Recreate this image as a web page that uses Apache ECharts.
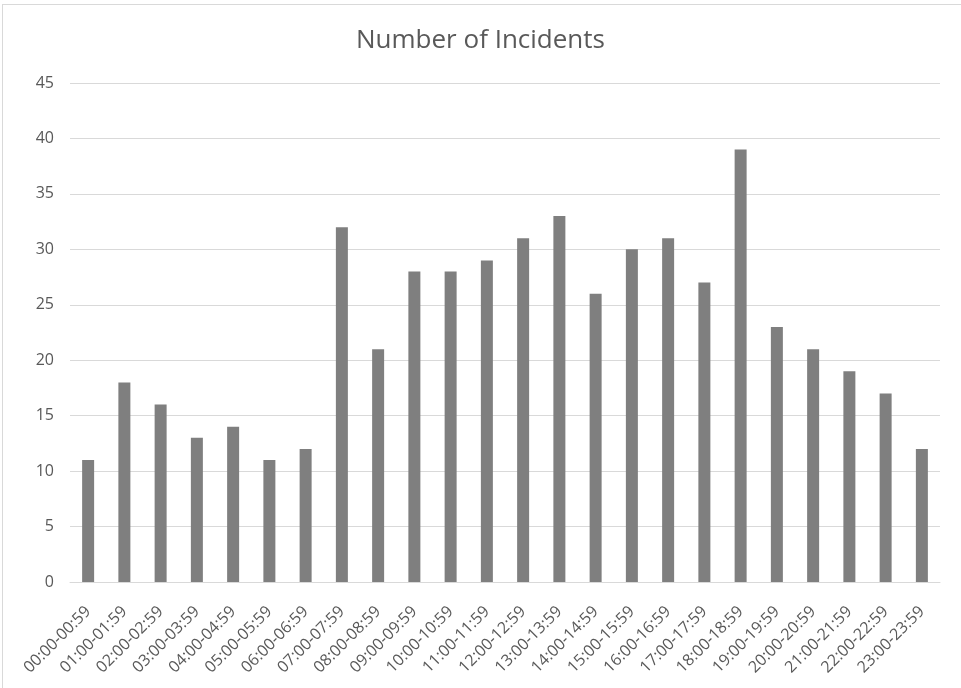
<!DOCTYPE html>
<html>
<head>
<meta charset="utf-8">
<script src="https://cdn.jsdelivr.net/npm/echarts@6/dist/echarts.min.js"></script>
<style>
  html, body { margin: 0; padding: 0; background: #fff; overflow: hidden; }
  #frame { position: absolute; left: 2px; top: 4px; width: 1000px; height: 720px; border: 1px solid #d9d9d9; }
  #chart { position: absolute; left: 0; top: 0; width: 961px; height: 688px; }
</style>
</head>
<body>
<div id="frame"></div>
<div id="chart"></div>
<script>
// time slots
var hours = ['00:00-00:59', '01:00-01:59', '02:00-02:59', '03:00-03:59', '04:00-04:59', '05:00-05:59',
  '06:00-06:59', '07:00-07:59', '08:00-08:59', '09:00-09:59', '10:00-10:59', '11:00-11:59',
  '12:00-12:59', '13:00-13:59', '14:00-14:59', '15:00-15:59', '16:00-16:59', '17:00-17:59',
  '18:00-18:59', '19:00-19:59', '20:00-20:59', '21:00-21:59', '22:00-22:59', '23:00-23:59'];
// incidents per slot
var incidents = [11, 18, 16, 13, 14, 11, 12, 32, 21, 28, 28, 29, 31, 33, 26, 30, 31, 27, 39, 23, 21, 19, 17, 12];

var myChart = echarts.init(document.getElementById('chart'));
var option = {
  animation: false,
  title: {
    text: 'Number of Incidents',
    left: 'center',
    top: 23,
    textStyle: { fontFamily: 'Open Sans', fontSize: 26, fontWeight: 'normal', color: '#595959' }
  },
  grid: { left: 70, right: 21, top: 83, bottom: 106 },
  xAxis: {
    type: 'category',
    data: hours,
    axisLine: { lineStyle: { color: '#d9d9d9' } },
    axisTick: { show: false },
    axisLabel: {
      interval: 0,
      rotate: 45,
      margin: 27,
      color: '#595959',
      fontFamily: 'Open Sans',
      fontSize: 16
    }
  },
  yAxis: {
    type: 'value',
    min: 0,
    max: 45,
    interval: 5,
    axisLine: { show: false },
    axisTick: { show: false },
    splitLine: { lineStyle: { color: '#d9d9d9' } },
    axisLabel: { margin: 16, color: '#595959', fontFamily: 'Open Sans', fontSize: 16 }
  },
  series: [{
    type: 'bar',
    data: incidents,
    barWidth: 12,
    itemStyle: { color: '#7f7f7f' }
  }]
};
myChart.setOption(option);
</script>
</body>
</html>
